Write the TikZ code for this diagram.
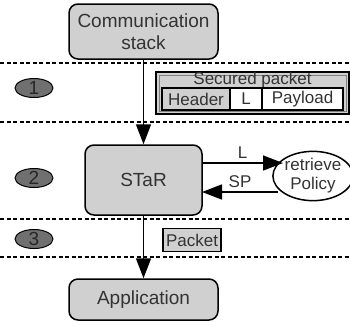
\documentclass[tikz,border=0pt]{standalone}
\usepackage{fontspec}
\setmainfont{Liberation Sans}
\usetikzlibrary{arrows.meta,shapes.geometric}
\definecolor{boxgray}{HTML}{D0D0D0}
\definecolor{numgray}{HTML}{707070}
\definecolor{txtgray}{HTML}{333333}
\begin{document}
\begin{tikzpicture}[x=1pt,y=-1pt,
    big/.style={font=\fontsize{19}{22}\selectfont},
    small/.style={font=\fontsize{17}{19}\selectfont},
    block/.style={draw,line width=1.5pt,rounded corners=9pt,fill=boxgray,text=txtgray,big,align=center,inner sep=0pt},
    stage/.style={draw,line width=1pt,ellipse,fill=numgray,text=black!85,big,minimum width=38pt,minimum height=19pt,inner sep=0pt},
    layer/.style={line width=1.3pt,dash pattern=on 4pt off 2.5pt},
    flow/.style={line width=1.5pt,-{Triangle[length=20pt,width=15pt]}},
    cell/.style={draw,line width=1.2pt,small,text=txtgray,minimum height=22pt,inner sep=0pt}]
\useasboundingbox (0,0) rectangle (350,325);
% Layers
\foreach \y in {63,122,219,257}
    \draw[layer] (0,\y) -- (350,\y);
\node[stage] (one) at (34,88) {1};
\node[stage] (two) at (34,178) {2};
\node[stage] (three) at (34,239) {3};
% Blocks
\node[block,minimum width=149pt,minimum height=55pt] (stack) at (143.5,31.5) {Communication\\stack};
\node[block,minimum width=117pt,minimum height=70pt] (star) at (143.5,180) {STaR};
\node[block,minimum width=149pt,minimum height=41pt] (app) at (143.5,299.5) {Application};
\node[draw,ellipse,line width=1.5pt,fill=white,small,text=txtgray,minimum width=75pt,minimum height=46pt,inner sep=0pt,align=center] (policy) at (313,176) {retrieve\\Policy};
% Secured packet
\node[draw,line width=1.5pt,fill=boxgray,minimum width=193pt,minimum height=42pt] (secured) at (252.5,93) {};
\draw[gray,line width=0.8pt] (159,75) rectangle (346,111);
\node[small,text=txtgray] (sectitle) at (252.5,80) {Secured packet};
\node[cell,fill=boxgray,minimum width=68pt] (header) at (196,99) {Header};
\node[cell,fill=white,minimum width=32pt] (lfield) at (246,99) {L};
\node[cell,fill=white,minimum width=81pt] (payload) at (302.5,99) {Payload};
\node[cell,fill=boxgray,minimum width=58pt,minimum height=23pt,line width=1.2pt] (packet) at (192,240) {Packet};
% Flow
\draw[flow] (stack) -- (star);
\draw[flow] (star) -- (app);
\draw[flow] (202,163) -- node[above,small,text=txtgray] {L} (283,163);
\draw[flow] (278,192) -- node[above,small,text=txtgray] {SP} (202,192);
\end{tikzpicture}
\end{document}
